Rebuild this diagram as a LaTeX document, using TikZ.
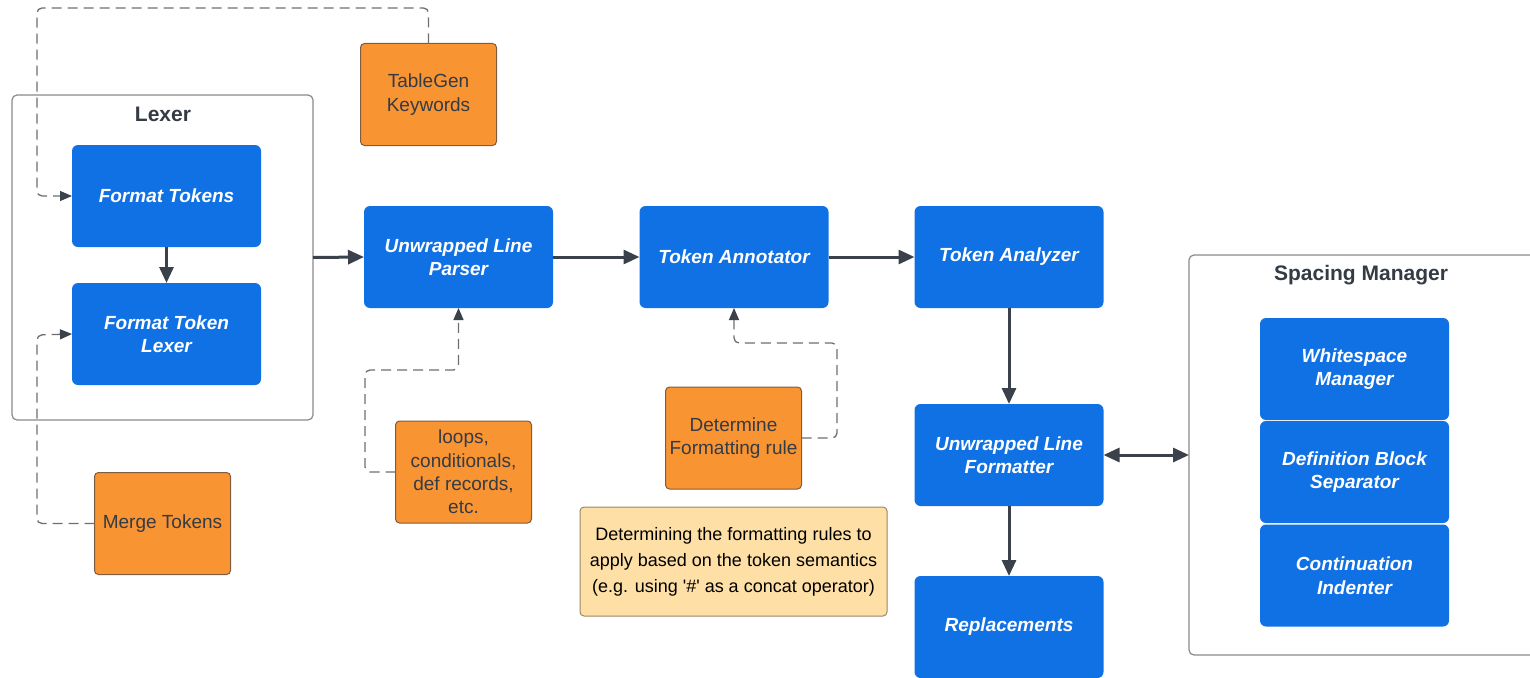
\documentclass[tikz,border=0pt]{standalone}
\usepackage{fontspec}
\setmainfont{Liberation Sans}
\newfontfamily\notefont{Liberation Sans}[Ligatures=TeXOff]
\usetikzlibrary{arrows.meta}
\definecolor{lblue}{HTML}{1071E5}
\definecolor{lorange}{HTML}{F99433}
\definecolor{lorangeb}{HTML}{7F5C3E}
\definecolor{lnote}{HTML}{FEDFA6}
\definecolor{lnoteb}{HTML}{9A8766}
\definecolor{ltext}{HTML}{333B45}
\definecolor{larrow}{HTML}{3A414B}
\definecolor{ldash}{HTML}{6E6E6E}
\definecolor{lframe}{HTML}{8A8A8A}
\tikzset{
  bluebox/.style={draw=none, fill=lblue, rounded corners=6pt, minimum width=189pt, minimum height=102pt,
    inner sep=0pt, outer sep=0pt, align=center, text=white,
    font=\fontsize{19}{23.5}\selectfont\bfseries\itshape},
  orbox/.style={draw=lorangeb, line width=1pt, fill=lorange, rounded corners=4pt, minimum width=136pt, minimum height=102pt,
    inner sep=0pt, outer sep=0pt, align=center, text=ltext, font=\fontsize{19}{23.3}\selectfont},
  frame/.style={draw=lframe, line width=1.2pt, fill=white, rounded corners=5pt, inner sep=0pt, outer sep=0pt},
  flabel/.style={text=ltext, font=\fontsize{21}{24}\selectfont\bfseries, inner sep=0pt},
  solidarrow/.style={draw=larrow, line width=3pt, -{Triangle[length=16pt,width=14pt]}},
  dasharrow/.style={draw=ldash, line width=1.3pt, dash pattern=on 10pt off 6pt, rounded corners=5pt,
    -{Triangle[length=12pt,width=10pt,fill=larrow,color=larrow]}},
}
\begin{document}
\begin{tikzpicture}[x=1pt,y=-1pt]
\useasboundingbox (0,0) rectangle (1530,677);
\clip (0,0) rectangle (1530,677);
% containers
\node[frame, minimum width=301pt, minimum height=325pt] (lexer) at (162.5,257.5) {};
\node[flabel] (lexerlbl) at (163,114) {Lexer};
\node[frame, minimum width=360pt, minimum height=400pt] (spacing) at (1369,455) {};
\node[flabel] (spacinglbl) at (1361,275) {Spacing Manager};
% turning points of dashed connectors
\coordinate (k1) at (37,8);
\coordinate (k2) at (37,335);
\coordinate (k3) at (365,370);
\coordinate (k4) at (837,343);
% blue boxes
\node[bluebox] (ft) at (166.5,196) {Format Tokens};
\node[bluebox] (ftl) at (166.5,334) {Format Token\\Lexer};
\node[bluebox] (ulp) at (458.5,257) {Unwrapped Line\\Parser};
\node[bluebox] (ta) at (734,257) {Token Annotator};
\node[bluebox] (tz) at (1009,257) {Token Analyzer};
\node[bluebox] (ulf) at (1009,455) {Unwrapped Line\\Formatter};
\node[bluebox] (rep) at (1009,627) {Replacements};
\node[bluebox] (wm) at (1354.5,369) {Whitespace\\Manager};
\node[bluebox] (dbs) at (1354.5,472) {Definition Block\\Separator};
\node[bluebox] (ci) at (1354.5,575.5) {Continuation\\Indenter};
% orange boxes
\node[orbox] (tg) at (428.5,94.5) {TableGen\\Keywords};
\node[orbox] (merge) at (162.5,523.5) {Merge Tokens};
\node[orbox] (loops) at (463.5,472) {loops,\\conditionals,\\def records,\\etc.};
\node[orbox] (det) at (733.5,438) {Determine\\Formatting rule};
\node[draw=lnoteb, line width=1pt, fill=lnote, rounded corners=4pt, minimum width=307pt, minimum height=109pt,
  inner sep=0pt, align=center, text=black, font=\notefont\fontsize{18}{26}\selectfont] (note) at (733.5,561.5)
  {Determining the formatting rules to\\apply based on the token semantics\\(e.g. using '\#' as a concat operator)};
% dashed connectors
\draw[dasharrow] (tg.north) |- (k1) |- (ft.west);
\draw[dasharrow] (merge.west) -| (k2) -- (ftl.west);
\draw[dasharrow] (loops.west) -| (k3) -| (ulp.south);
\draw[dasharrow] (det.east) -| (k4) -| (ta.south);
% solid arrows
\draw[solidarrow] (ft) -- (ftl);
\draw[solidarrow] (lexer.east) -- (ulp.west);
\draw[solidarrow] (ulp) -- (ta);
\draw[solidarrow] (ta) -- (tz);
\draw[solidarrow] (tz) -- (ulf);
\draw[solidarrow] (ulf) -- (rep);
\draw[draw=larrow, line width=3pt, {Triangle[length=16pt,width=14pt]}-{Triangle[length=16pt,width=14pt]}] (ulf.east) -- (spacing.west);
\end{tikzpicture}
\end{document}
